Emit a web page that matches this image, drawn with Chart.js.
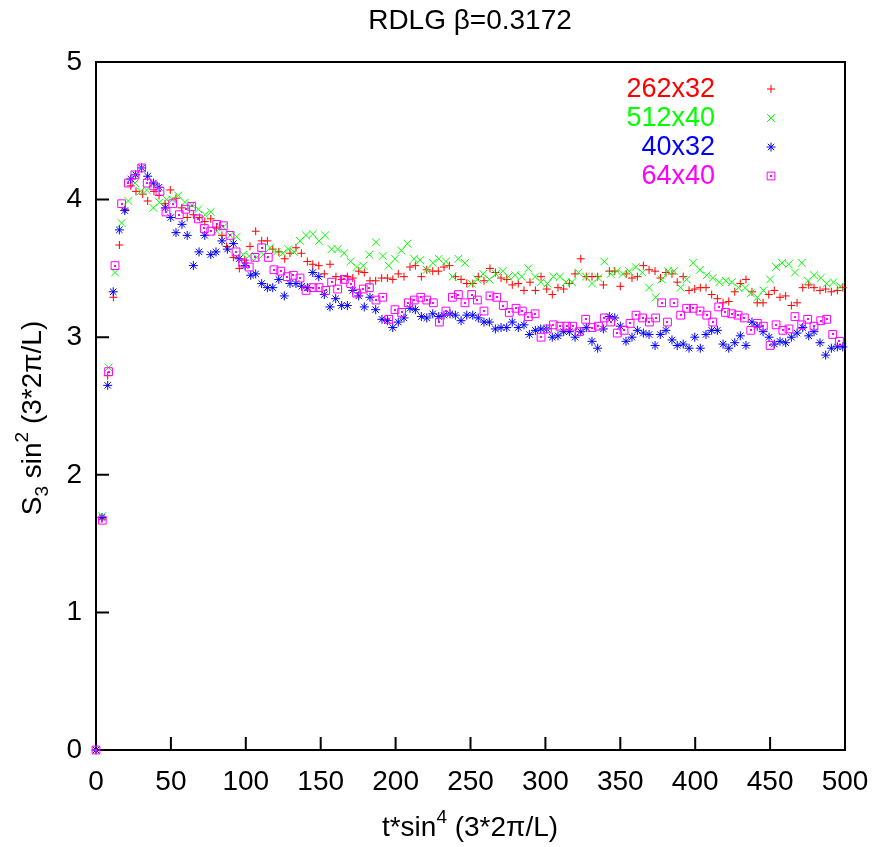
<!DOCTYPE html>
<html lang="en">
<head>
    <meta charset="UTF-8">
    <title>RDLG beta=0.3172</title>
    <script src="https://cdn.jsdelivr.net/npm/chart.js"></script>
    <style>
        body { margin: 0; background: #fff; }
        #wrap { width: 873px; height: 847px; }
    </style>
</head>
<body>
    <div id="wrap"><canvas id="chart"></canvas></div>

    <script>
        // 262x32  (+)
        const redX = [0, 4, 7.8, 11.6, 15.6, 19.4, 23.2, 26.7, 31.2, 34.5, 38.7, 42.1, 46.1, 49.6, 53.4, 57.2, 60.9, 65, 69, 72.6,
            76.6, 80.4, 84.1, 87.2, 91.7, 95.7, 99.3, 102.8, 106.6, 110.6, 114.4, 118, 122, 126, 129.5, 133.5, 137.1, 141.1, 144.7, 148.7,
            152.4, 156.2, 160.2, 164, 167.8, 171.4, 175.4, 179.1, 182.9, 186.7, 190.7, 194.5, 198.1, 201.8, 205.6, 209.6, 213.2, 217.2, 220.8, 224.8,
            228.5, 232.3, 235.9, 239.9, 243.7, 247.5, 251.5, 255.2, 259, 263, 266.6, 270.4, 274.2, 277.9, 281.9, 285.7, 289.7, 293.3, 297.1, 300.9,
            304.6, 308.4, 312.2, 316, 319.8, 323.6, 327.3, 331.1, 334.9, 338.7, 342.7, 346.3, 350, 354, 357.8, 361.4, 365.4, 369.2, 373.2, 376.8,
            380.5, 384.5, 388, 392, 395.9, 399.7, 403.4, 407.2, 411, 414.8, 418.6, 422.4, 426.4, 430.1, 433.9, 437.9, 441.4, 445.3, 449.1, 452.8,
            456.6, 460.4, 464.2, 468, 471.8, 475.8, 479.3, 483.3, 487.1, 490.9, 494.9, 498.5];
        const redY = [0, 1.68, 2.72, 3.29, 3.67, 3.93, 4.10, 4.06, 4.04, 3.99, 4.06, 4.03, 3.97, 4.07, 4.01, 3.94, 3.87, 3.89, 3.87, 3.84,
            3.86, 3.80, 3.74, 3.66, 3.58, 3.50, 3.56, 3.66, 3.77, 3.70, 3.70, 3.64, 3.62, 3.57, 3.61, 3.65, 3.61, 3.55, 3.53, 3.52,
            3.46, 3.53, 3.44, 3.42, 3.44, 3.43, 3.48, 3.47, 3.41, 3.41, 3.43, 3.43, 3.42, 3.46, 3.44, 3.51, 3.52, 3.44, 3.49, 3.48,
            3.48, 3.51, 3.52, 3.44, 3.42, 3.39, 3.39, 3.44, 3.41, 3.50, 3.47, 3.43, 3.42, 3.38, 3.39, 3.34, 3.40, 3.34, 3.44, 3.35,
            3.31, 3.36, 3.35, 3.39, 3.46, 3.57, 3.44, 3.44, 3.44, 3.38, 3.48, 3.48, 3.37, 3.46, 3.43, 3.44, 3.52, 3.49, 3.48, 3.43,
            3.47, 3.46, 3.40, 3.44, 3.34, 3.35, 3.36, 3.36, 3.31, 3.28, 3.25, 3.26, 3.33, 3.39, 3.42, 3.33, 3.25, 3.25, 3.31, 3.34,
            3.29, 3.30, 3.23, 3.25, 3.36, 3.38, 3.36, 3.34, 3.35, 3.33, 3.34, 3.36];

        // 512x40  (x)
        const greenX = [0, 4.2, 8.4, 12.7, 17.1, 21.6, 26, 29.8, 33.8, 38.3, 42.3, 47.2, 50.9, 54.9, 59.4, 63.9, 68.3, 72.8, 76.6, 80.6,
            85, 89.5, 93.9, 98.3, 102.3, 107.3, 111.7, 116.2, 120.6, 124.6, 128.4, 132.2, 136.2, 140.2, 144.7, 148.9, 152.9, 157.3, 161.3, 165.6,
            170, 174, 178.4, 182.5, 186.9, 191.4, 195.4, 199.6, 203.8, 207.8, 212.3, 216.3, 220.8, 224.8, 228.8, 233.6, 238.1, 241.9, 246.3, 250.8,
            254.5, 258.5, 262.6, 267, 271.5, 275.3, 279.7, 284.2, 288.6, 293.1, 296.9, 301.3, 305.3, 309.7, 313.7, 317.8, 322, 327, 331.1, 335.4,
            339.3, 343.6, 347.6, 351.6, 356, 360.3, 364.7, 369.2, 373.6, 377.6, 381.8, 385.8, 390.3, 394.3, 398.7, 403.2, 407.7, 411.7, 416.1, 420.4,
            424.4, 428.8, 433.3, 437.1, 441.5, 445.5, 450, 454, 458, 462.4, 466.6, 471.1, 475.3, 479.3, 483.8, 487.8, 492.3, 496.8];
        const greenY = [0, 1.70, 2.78, 3.47, 3.83, 3.99, 4.12, 4.06, 4.07, 3.94, 3.98, 4.00, 4.00, 4.03, 3.98, 3.96, 3.93, 3.89, 3.91, 3.77,
            3.80, 3.74, 3.73, 3.60, 3.59, 3.58, 3.60, 3.65, 3.62, 3.61, 3.64, 3.62, 3.70, 3.74, 3.75, 3.70, 3.74, 3.64, 3.64, 3.61,
            3.55, 3.51, 3.52, 3.60, 3.69, 3.59, 3.52, 3.57, 3.63, 3.68, 3.57, 3.56, 3.49, 3.54, 3.57, 3.55, 3.44, 3.57, 3.54, 3.39,
            3.42, 3.46, 3.42, 3.46, 3.48, 3.44, 3.45, 3.44, 3.50, 3.44, 3.40, 3.39, 3.44, 3.44, 3.40, 3.40, 3.47, 3.44, 3.39, 3.43,
            3.55, 3.46, 3.48, 3.46, 3.48, 3.51, 3.47, 3.36, 3.29, 3.42, 3.48, 3.48, 3.36, 3.42, 3.54, 3.49, 3.45, 3.43, 3.40, 3.41,
            3.40, 3.36, 3.36, 3.32, 3.29, 3.34, 3.42, 3.51, 3.54, 3.53, 3.47, 3.54, 3.41, 3.45, 3.43, 3.39, 3.40, 3.37];

        // 40x32  (*)
        const blueX = [0, 4, 7.8, 11.5, 15.6, 19.2, 23.2, 26.5, 30.5, 34.5, 38.3, 42.1, 46.3, 49.9, 53.4, 57.4, 60.9, 65, 68.8, 72.6,
            76.6, 80.1, 84.1, 87.7, 91.7, 95.5, 99.5, 103.3, 106.6, 110.6, 114.4, 118, 122, 125.7, 129.5, 133.5, 137.3, 141.1, 144.7, 148.7,
            152.4, 156.2, 160, 164, 167.8, 171.4, 175.4, 179.1, 182.9, 186.7, 190.9, 194.5, 198.1, 201.8, 205.6, 209.6, 213.2, 217.2, 220.8, 224.8,
            228.8, 232.3, 236.3, 239.9, 243.7, 247.5, 251.5, 255.2, 259, 262.6, 266.6, 270.4, 274.2, 277.9, 281.9, 285.7, 289.3, 293.3, 296.9, 300.9,
            304.6, 308.4, 312.2, 316, 319.8, 323.6, 327.3, 331.1, 334.9, 338.7, 342.7, 346.3, 350, 353.8, 357.8, 361.4, 365.4, 369.2, 373.2, 376.7,
            380.5, 384.5, 388, 392, 395.9, 399.7, 403.4, 407.2, 411, 414.8, 418.6, 422.4, 426.4, 430.1, 433.9, 437.9, 441.4, 445.3, 449.3, 452.8,
            456.6, 460.4, 464.2, 468, 471.8, 475.8, 479.3, 483.3, 487.1, 490.9, 494.9, 498.5];
        const blueY = [0, 1.69, 2.65, 3.33, 3.78, 3.92, 4.15, 4.18, 4.23, 4.17, 4.12, 4.09, 3.94, 3.87, 3.76, 3.82, 3.74, 3.52, 3.62, 3.74,
            3.60, 3.62, 3.70, 3.64, 3.68, 3.57, 3.52, 3.45, 3.46, 3.39, 3.36, 3.36, 3.42, 3.30, 3.39, 3.39, 3.37, 3.36, 3.47, 3.44,
            3.31, 3.22, 3.28, 3.23, 3.23, 3.34, 3.30, 3.22, 3.29, 3.20, 3.13, 3.12, 3.07, 3.11, 3.14, 3.21, 3.20, 3.15, 3.14, 3.17,
            3.15, 3.16, 3.17, 3.16, 3.12, 3.16, 3.16, 3.14, 3.11, 3.11, 3.06, 3.07, 3.07, 3.11, 3.07, 3.09, 3.02, 3.05, 3.06, 3.06,
            3.00, 3.01, 3.04, 3.04, 3.00, 3.04, 3.07, 2.97, 2.92, 3.06, 3.15, 3.14, 3.08, 2.97, 3.00, 3.05, 3.03, 3.02, 2.94, 3.02,
            3.05, 2.98, 2.94, 2.95, 2.92, 3.00, 2.92, 3.02, 3.05, 3.05, 2.95, 2.92, 2.96, 3.01, 2.94, 3.11, 3.08, 3.04, 3.00, 2.95,
            2.97, 2.96, 3.00, 3.03, 3.07, 3.01, 3.04, 2.96, 2.87, 2.92, 2.93, 2.93];

        // 64x40  (box)
        const pinkX = [0, 4.2, 8.4, 12.7, 17.1, 21.6, 26, 30.5, 34.2, 38.5, 42.7, 46.7, 51.2, 55.6, 59.9, 63.9, 68.3, 72.3, 76.6, 80.6,
            85, 89.5, 93.5, 97.9, 102.3, 106.1, 110.6, 115, 118.8, 123.3, 127.7, 131.7, 136.2, 140.2, 144.7, 148.9, 153.3, 157.3, 161.3, 165.8,
            170, 174, 178.4, 182.5, 186.9, 191.4, 195.4, 199.6, 204, 208.5, 212.5, 216.8, 220.8, 225.2, 229.2, 233.6, 237.9, 241.9, 246.3, 250.8,
            254.6, 259, 263, 267.5, 271.9, 275.9, 280.4, 284.6, 288.6, 293.1, 297.1, 301.3, 305.3, 309.7, 314.2, 318.2, 322.6, 326.9, 331.1, 335.4,
            339.3, 343.6, 348, 352.5, 356.5, 360.5, 364.9, 369.4, 373.6, 377.6, 381.5, 385.8, 390.3, 394.3, 398.7, 403.2, 407.7, 411.7, 415.7, 420.2,
            424.4, 428.6, 432.8, 437.1, 441.5, 445.5, 450, 454, 458.5, 462.6, 466.6, 471.1, 475.1, 479.3, 483.8, 487.8, 491.8, 496.3];
        const pinkY = [0, 1.67, 2.75, 3.52, 3.97, 4.12, 4.18, 4.23, 4.12, 4.10, 4.06, 3.91, 3.97, 3.89, 3.93, 3.95, 3.86, 3.79, 3.77, 3.82,
            3.81, 3.74, 3.62, 3.54, 3.51, 3.58, 3.65, 3.58, 3.49, 3.48, 3.44, 3.45, 3.43, 3.34, 3.36, 3.36, 3.34, 3.40, 3.35, 3.42,
            3.39, 3.32, 3.35, 3.36, 3.27, 3.29, 3.13, 3.20, 3.18, 3.25, 3.27, 3.29, 3.27, 3.25, 3.11, 3.19, 3.29, 3.31, 3.25, 3.31,
            3.27, 3.19, 3.30, 3.29, 3.23, 3.18, 3.21, 3.19, 3.15, 3.17, 3.00, 3.06, 3.09, 3.08, 3.08, 3.08, 3.04, 3.13, 3.07, 3.08,
            3.14, 3.11, 3.03, 3.05, 3.10, 3.16, 3.14, 3.11, 3.14, 3.25, 3.11, 3.25, 3.16, 3.21, 3.21, 3.19, 3.16, 3.11, 3.22, 3.18,
            3.17, 3.16, 3.14, 3.05, 3.10, 3.08, 2.94, 3.09, 3.05, 3.06, 3.15, 3.09, 3.13, 3.08, 3.12, 3.13, 3.02, 2.97];

        const seriesNames = ['262x32', '512x40', '40x32', '64x40'];
        const FONT = '"Liberation Sans", Arial, Helvetica, sans-serif';

        function pts(xs, ys) {
            return xs.map((x, i) => ({ x: x, y: ys[i] }));
        }

        // text with sub/superscripts: parts = [[text, size, dy], ...]
        function richWidth(ctx, parts) {
            let w = 0;
            parts.forEach(p => {
                ctx.font = p[1] + 'px ' + FONT;
                w += ctx.measureText(p[0]).width;
            });
            return w;
        }
        function drawRich(ctx, parts, x, y) {
            let cx = x - richWidth(ctx, parts) / 2;
            ctx.textAlign = 'left';
            ctx.textBaseline = 'alphabetic';
            parts.forEach(p => {
                ctx.font = p[1] + 'px ' + FONT;
                ctx.fillText(p[0], cx, y + p[2]);
                cx += ctx.measureText(p[0]).width;
            });
        }

        const framePlugin = {
            id: 'frame',
            beforeDatasetsDraw(chart) {
                const ctx = chart.ctx;
                const a = chart.chartArea;
                const xs = chart.scales.x, ys = chart.scales.y;
                ctx.save();
                ctx.strokeStyle = '#000';
                ctx.lineWidth = 2;
                ctx.beginPath();
                xs.ticks.forEach(t => {
                    const px = xs.getPixelForValue(t.value);
                    ctx.moveTo(px, a.bottom);
                    ctx.lineTo(px, a.bottom - 13);
                });
                ys.ticks.forEach(t => {
                    const py = ys.getPixelForValue(t.value);
                    ctx.moveTo(a.left, py);
                    ctx.lineTo(a.left + 13, py);
                });
                ctx.stroke();
                ctx.strokeRect(a.left, a.top, a.right - a.left, a.bottom - a.top);
                ctx.restore();
            },
            afterDatasetsDraw(chart) {
                // little centre dot inside each box marker
                const ctx = chart.ctx;
                ctx.save();
                ctx.fillStyle = '#ff00ff';
                chart.getDatasetMeta(3).data.forEach(p => {
                    ctx.fillRect(Math.round(p.x) - 1, Math.round(p.y) - 1, 2, 2);
                });
                ctx.restore();
            },
            afterDraw(chart) {
                const ctx = chart.ctx;
                ctx.save();
                ctx.fillStyle = '#000';

                // title
                ctx.font = '28px ' + FONT;
                ctx.textAlign = 'center';
                ctx.textBaseline = 'alphabetic';
                ctx.fillText('RDLG \u03b2=0.3172', 470, 29);

                // x label
                drawRich(ctx, [['t*sin', 28, 0], ['4', 19, -13], [' (3*2\u03c0/L)', 28, 0]], 470, 836);

                // y label
                ctx.save();
                ctx.translate(41, 418);
                ctx.rotate(-Math.PI / 2);
                drawRich(ctx, [['S', 28, 0], ['3', 19, 7], [' sin', 28, 0], ['2', 19, -13], [' (3*2\u03c0/L)', 28, 0]], 0, 0);
                ctx.restore();

                // key, gnuplot style
                const rowY = [89, 118, 147, 176];
                chart.data.datasets.forEach((ds, i) => {
                    ctx.font = '27px ' + FONT;
                    ctx.fillStyle = ds.borderColor;
                    ctx.textAlign = 'right';
                    ctx.textBaseline = 'middle';
                    ctx.fillText(seriesNames[i], 715, rowY[i] + 1);
                    ctx.strokeStyle = ds.borderColor;
                    ctx.fillStyle = 'rgba(0,0,0,0)';
                    ctx.lineWidth = 1;
                    Chart.helpers.drawPoint(ctx, {
                        pointStyle: ds.pointStyle,
                        radius: ds.pointRadius,
                        borderWidth: 1,
                        rotation: 0
                    }, 771, rowY[i]);
                    if (i === 3) {
                        ctx.fillStyle = ds.borderColor;
                        ctx.fillRect(770, rowY[i] - 1, 2, 2);
                    }
                });
                ctx.restore();
            }
        };

        function series(label, xs, ys, color, style, radius, order) {
            return {
                label: label,
                data: pts(xs, ys),
                borderColor: color,
                backgroundColor: 'rgba(0,0,0,0)',
                pointStyle: style,
                pointRadius: radius,
                pointHoverRadius: radius,
                borderWidth: 1,
                showLine: false,
                clip: false,
                order: order
            };
        }

        new Chart(document.getElementById('chart').getContext('2d'), {
            type: 'scatter',
            data: {
                datasets: [
                    series(seriesNames[0], redX, redY, '#ff0000', 'cross', 4, 4),
                    series(seriesNames[1], greenX, greenY, '#00ff00', 'crossRot', 5.5, 3),
                    series(seriesNames[2], blueX, blueY, '#0000ff', 'star', 4.5, 2),
                    series(seriesNames[3], pinkX, pinkY, '#ff00ff', 'rect', 5.5, 1)
                ]
            },
            options: {
                responsive: true,
                maintainAspectRatio: false,
                animation: false,
                events: [],
                layout: { padding: { left: 0, right: 28, top: 62, bottom: 0 } },
                plugins: {
                    legend: { display: false },
                    title: { display: false },
                    tooltip: { enabled: false }
                },
                scales: {
                    x: {
                        type: 'linear',
                        min: 0,
                        max: 500,
                        afterFit: s => { s.height = 97; s.paddingLeft = 0; s.paddingRight = 0; },
                        grid: { display: false, drawTicks: false },
                        border: { display: false },
                        ticks: {
                            stepSize: 50,
                            padding: 15,
                            color: '#000',
                            font: { family: FONT, size: 28 }
                        }
                    },
                    y: {
                        type: 'linear',
                        min: 0,
                        max: 5,
                        afterFit: s => { s.width = 96; s.paddingTop = 0; s.paddingBottom = 0; },
                        grid: { display: false, drawTicks: false },
                        border: { display: false },
                        ticks: {
                            stepSize: 1,
                            padding: 14,
                            color: '#000',
                            font: { family: FONT, size: 28 }
                        }
                    }
                }
            },
            plugins: [framePlugin]
        });
    </script>
</body>
</html>
